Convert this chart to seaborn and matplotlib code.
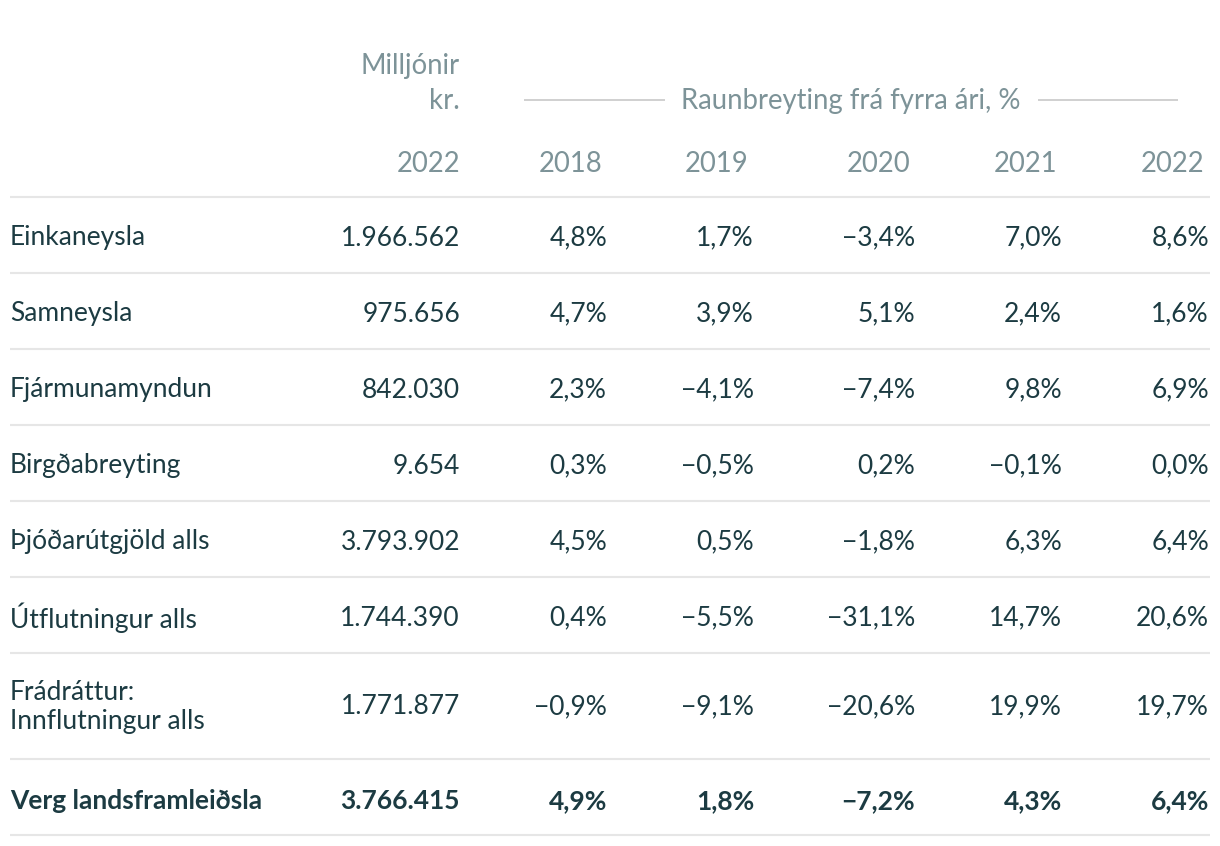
import matplotlib.pyplot as plt
import seaborn as sns

# ---------------------------------------------------------
# Data
# ---------------------------------------------------------
categories = [
    "Einkaneysla",
    "Samneysla",
    "Fjármunamyndun",
    "Birgðabreyting",
    "Þjóðarútgjöld alls",
    "Útflutningur alls",
    "Frádráttur:\nInnflutningur alls",
    "Verg landsframleiðsla",
]
millions_2022 = [1966562, 975656, 842030, 9654, 3793902, 1744390, 1771877, 3766415]
years = ["2018", "2019", "2020", "2021", "2022"]
change_2018 = [4.8, 4.7, 2.3, 0.3, 4.5, 0.4, -0.9, 4.9]
change_2019 = [1.7, 3.9, -4.1, -0.5, 0.5, -5.5, -9.1, 1.8]
change_2020 = [-3.4, 5.1, -7.4, 0.2, -1.8, -31.1, -20.6, -7.2]
change_2021 = [7.0, 2.4, 9.8, -0.1, 6.3, 14.7, 19.9, 4.3]
change_2022 = [8.6, 1.6, 6.9, 0.0, 6.4, 20.6, 19.7, 6.4]
changes = [change_2018, change_2019, change_2020, change_2021, change_2022]


def fmt_int(v):
    return f"{v:,}".replace(",", ".")


def fmt_pct(v):
    s = f"{abs(v):.1f}".replace(".", ",") + "%"
    return ("\u2212" + s) if v < 0 else s


# ---------------------------------------------------------
# Style
# ---------------------------------------------------------
sns.set_theme(style="white")
plt.rcParams["font.family"] = ["Lato", "DejaVu Sans"]

DARK = "#1c3b42"
GREY = "#7d9398"
LINE = "#e6e6e6"
FS = 19
HFS = 19.8

fig = plt.figure(figsize=(12.2, 8.46), dpi=100)
ax = fig.add_axes([0, 0, 1, 1])
ax.set_xlim(0, 1220)
ax.set_ylim(846, 0)
ax.axis("off")

# layout (pixel space)
label_x = 10
mill_x = 460
year_x = [607, 754, 915, 1062, 1209]
row_y = [238, 314, 390, 466, 542, 618, 707, 801]
sep_y = [197, 273, 349, 425, 501, 577, 653, 759, 835]

# header
ax.text(mill_x, 66, "Milljónir", ha="right", va="center", color=GREY, fontsize=HFS)
ax.text(mill_x, 101, "kr.", ha="right", va="center", color=GREY, fontsize=HFS)
ax.text(851, 101, "Raunbreyting frá fyrra ári, %", ha="center", va="center",
        color=GREY, fontsize=HFS)
ax.hlines(100, 524, 665, color="#c8c8c8", lw=1.2)
ax.hlines(100, 1038, 1178, color="#c8c8c8", lw=1.2)
ax.text(mill_x, 164, "2022", ha="right", va="center", color=GREY, fontsize=HFS)
for x, yr in zip(year_x, years):
    ax.text(x - 5, 164, yr, ha="right", va="center", color=GREY, fontsize=HFS)

# separators
ax.hlines(sep_y, 10, 1210, color=LINE, lw=1.5)

# body
for i, cat in enumerate(categories):
    weight = "bold" if i == len(categories) - 1 else "normal"
    y = row_y[i]
    ax.text(label_x, y, cat, ha="left", va="center", color=DARK, fontsize=FS,
            fontweight=weight, linespacing=1.15)
    ax.text(mill_x, y, fmt_int(millions_2022[i]), ha="right", va="center",
            color=DARK, fontsize=FS, fontweight=weight)
    for x, col in zip(year_x, changes):
        ax.text(x, y, fmt_pct(col[i]), ha="right", va="center", color=DARK,
                fontsize=FS, fontweight=weight)

fig.savefig("out.png", dpi=100, facecolor="white")
